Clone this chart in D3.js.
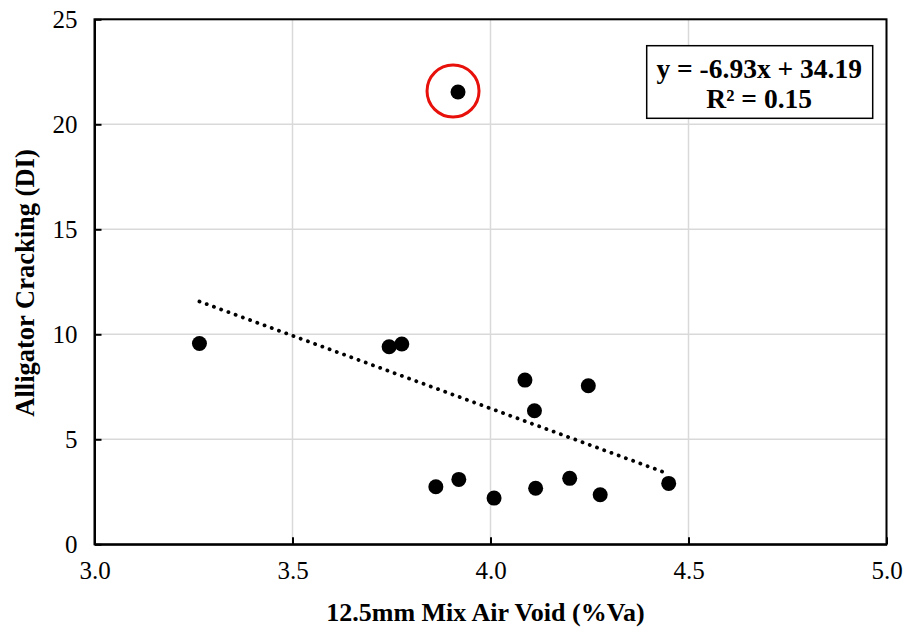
<!DOCTYPE html>
<html><head><meta charset="utf-8">
<script src="https://cdn.jsdelivr.net/npm/d3@7"></script>
<style>body{margin:0;background:#fff} svg text{font-family:"Liberation Serif","Times New Roman",serif;}</style>
</head><body>
<script>
const airVoid = [3.265, 3.744, 3.776, 3.918, 4.087, 4.247, 4.111, 3.862, 3.920, 4.009, 4.114, 4.200, 4.277, 4.450];
const cracking = [9.56, 9.41, 9.54, 21.54, 7.82, 7.55, 6.36, 2.74, 3.09, 2.20, 2.67, 3.14, 2.36, 2.90];
const xTicks = [3.0, 3.5, 4.0, 4.5, 5.0];
const yTicks = [0, 5, 10, 15, 20, 25];
const slope = -6.93, intercept = 34.19, r2 = 0.15;
const trendRange = [3.265, 4.450];
const outlierIndex = 3;

const W = 907, H = 631;
const svg = d3.select("body").append("svg").attr("width", W).attr("height", H);
const x = d3.scaleLinear().domain([3, 5]).range([94.5, 886.5]);
const y = d3.scaleLinear().domain([0, 25]).range([544.3, 19.3]);
const serif = "Liberation Serif, Times New Roman, serif";

// gridlines
svg.append("g").selectAll("line").data(xTicks).join("line")
  .attr("x1", d => x(d)).attr("x2", d => x(d)).attr("y1", y(0)).attr("y2", y(25))
  .attr("stroke", "#d9d9d9").attr("stroke-width", 1.5);
svg.append("g").selectAll("line").data(yTicks).join("line")
  .attr("y1", d => y(d)).attr("y2", d => y(d)).attr("x1", x(3)).attr("x2", x(5))
  .attr("stroke", "#d9d9d9").attr("stroke-width", 1.5);

// frame
svg.append("rect").attr("x", x(3)).attr("y", y(25)).attr("width", x(5) - x(3)).attr("height", y(0) - y(25))
  .attr("fill", "none").attr("stroke", "#000").attr("stroke-width", 2);

// axes
const xAxis = svg.append("g").attr("transform", `translate(0,${y(0)})`)
  .call(d3.axisBottom(x).tickValues(xTicks).tickFormat(d3.format(".1f")).tickSizeInner(-7).tickSizeOuter(0).tickPadding(17));
const yAxis = svg.append("g").attr("transform", `translate(${x(3)},0)`)
  .call(d3.axisLeft(y).tickValues(yTicks).tickSizeInner(-7).tickSizeOuter(0).tickPadding(17));
[xAxis, yAxis].forEach(g => {
  g.attr("font-family", null).attr("font-size", null);
  g.select(".domain").attr("stroke", "#000").attr("stroke-width", 2);
  g.selectAll(".tick line").attr("stroke", "#000").attr("stroke-width", 2);
  g.selectAll("text").style("font-family", serif).style("font-size", "25px").attr("fill", "#000");
});
xAxis.selectAll("text").attr("dy", "0.71em");

// trendline
svg.append("line")
  .attr("x1", x(trendRange[0])).attr("y1", y(slope * trendRange[0] + intercept))
  .attr("x2", x(trendRange[1])).attr("y2", y(slope * trendRange[1] + intercept))
  .attr("stroke", "#000").attr("stroke-width", 3.8).attr("stroke-linecap", "round")
  .attr("stroke-dasharray", "0.1 7.6");

// points
svg.append("g").selectAll("circle").data(airVoid.map((v, i) => [v, cracking[i]])).join("circle")
  .attr("cx", d => x(d[0])).attr("cy", d => y(d[1])).attr("r", 7.5).attr("fill", "#000");

// outlier ring
svg.append("circle").attr("cx", x(airVoid[outlierIndex]) - 5).attr("cy", y(cracking[outlierIndex]) - 1)
  .attr("r", 26).attr("fill", "none").attr("stroke", "#e8100a").attr("stroke-width", 3);

// equation box
svg.append("rect").attr("x", 646.7).attr("y", 45.7).attr("width", 226).attr("height", 72.6)
  .attr("fill", "#fff").attr("stroke", "#000").attr("stroke-width", 1.5);
const eq = svg.append("text").style("font-family", serif).style("font-weight", "bold").style("font-size", "27.5px")
  .attr("text-anchor", "middle").attr("fill", "#000");
eq.append("tspan").attr("x", 759.2).attr("y", 78).text(`y = ${slope}x + ${intercept}`);
eq.append("tspan").attr("x", 759.2).attr("y", 108).text(`R² = ${r2.toFixed(2)}`);

// axis titles
svg.append("text").attr("x", 485.5).attr("y", 621).attr("text-anchor", "middle")
  .style("font-family", serif).style("font-weight", "bold").style("font-size", "26px").text("12.5mm Mix Air Void (%Va)");
svg.append("text").attr("transform", "translate(34,283) rotate(-90)").attr("text-anchor", "middle")
  .style("font-family", serif).style("font-weight", "bold").style("font-size", "26.5px").text("Alligator Cracking (DI)");
</script>
</body></html>
